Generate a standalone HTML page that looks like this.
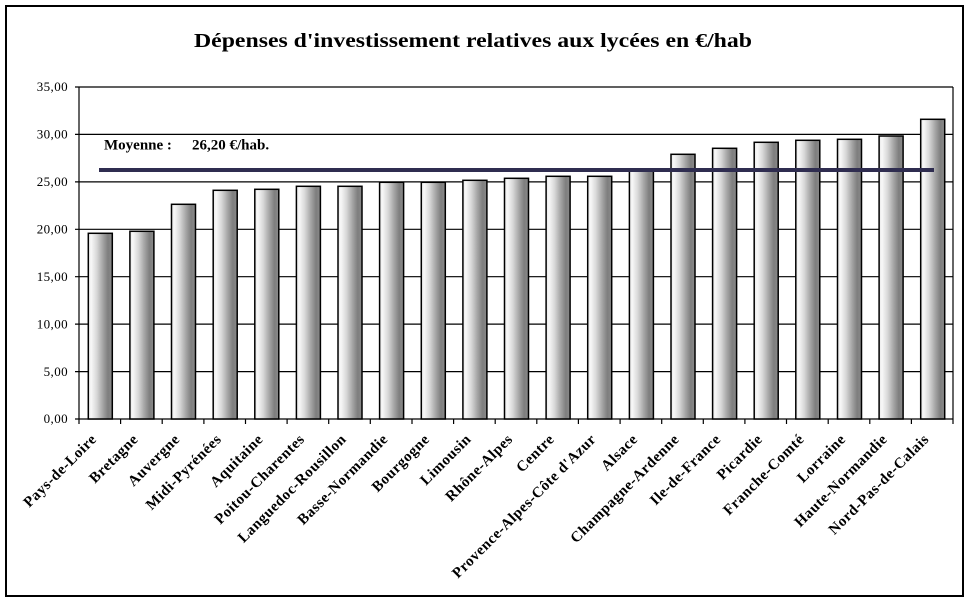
<!DOCTYPE html>
<html>
<head>
<meta charset="utf-8">
<style>
html,body{margin:0;padding:0;background:#fff;}
svg{display:block;}
text{font-family:"Liberation Serif","DejaVu Serif",serif;fill:#000;}
</style>
</head>
<body>
<svg width="970" height="602" viewBox="0 0 970 602" xmlns="http://www.w3.org/2000/svg">
<defs>
<linearGradient id="bg" x1="0" y1="0" x2="1" y2="0">
<stop offset="0" stop-color="#e6e6e6"/>
<stop offset="0.12" stop-color="#f8f8f8"/>
<stop offset="0.35" stop-color="#d8d8d8"/>
<stop offset="0.6" stop-color="#a6a6a6"/>
<stop offset="0.82" stop-color="#7e7e7e"/>
<stop offset="1" stop-color="#8a8a8a"/>
</linearGradient>
</defs>
<rect x="0" y="0" width="970" height="602" fill="#fff"/>
<rect x="6" y="6" width="957" height="590" fill="none" stroke="#000" stroke-width="2"/>

<text x="473" y="47" text-anchor="middle" font-size="20" font-weight="bold" textLength="558" lengthAdjust="spacingAndGlyphs">Dépenses d'investissement relatives aux lycées en €/hab</text>

<!-- gridlines -->
<g stroke="#000" stroke-width="1.2">
<line x1="75" y1="87" x2="953" y2="87"/>
<line x1="75" y1="134.4" x2="953" y2="134.4"/>
<line x1="75" y1="181.9" x2="953" y2="181.9"/>
<line x1="75" y1="229.3" x2="953" y2="229.3"/>
<line x1="75" y1="276.7" x2="953" y2="276.7"/>
<line x1="75" y1="324.1" x2="953" y2="324.1"/>
<line x1="75" y1="371.6" x2="953" y2="371.6"/>
<line x1="75" y1="419" x2="953" y2="419"/>
<line x1="79" y1="87" x2="79" y2="424"/>
<line x1="953" y1="87" x2="953" y2="424"/>
</g>
<g stroke="#000" stroke-width="1.2">
<line x1="120.6" y1="419" x2="120.6" y2="424"/>
<line x1="162.2" y1="419" x2="162.2" y2="424"/>
<line x1="203.9" y1="419" x2="203.9" y2="424"/>
<line x1="245.5" y1="419" x2="245.5" y2="424"/>
<line x1="287.1" y1="419" x2="287.1" y2="424"/>
<line x1="328.7" y1="419" x2="328.7" y2="424"/>
<line x1="370.3" y1="419" x2="370.3" y2="424"/>
<line x1="412" y1="419" x2="412" y2="424"/>
<line x1="453.6" y1="419" x2="453.6" y2="424"/>
<line x1="495.2" y1="419" x2="495.2" y2="424"/>
<line x1="536.8" y1="419" x2="536.8" y2="424"/>
<line x1="578.4" y1="419" x2="578.4" y2="424"/>
<line x1="620.1" y1="419" x2="620.1" y2="424"/>
<line x1="661.7" y1="419" x2="661.7" y2="424"/>
<line x1="703.3" y1="419" x2="703.3" y2="424"/>
<line x1="744.9" y1="419" x2="744.9" y2="424"/>
<line x1="786.5" y1="419" x2="786.5" y2="424"/>
<line x1="828.2" y1="419" x2="828.2" y2="424"/>
<line x1="869.8" y1="419" x2="869.8" y2="424"/>
<line x1="911.4" y1="419" x2="911.4" y2="424"/>
</g>

<!-- y labels -->
<g font-size="13" text-anchor="end" letter-spacing="0.4">
<text x="68" y="91">35,00</text>
<text x="68" y="138.5">30,00</text>
<text x="68" y="186">25,00</text>
<text x="68" y="233.5">20,00</text>
<text x="68" y="281">15,00</text>
<text x="68" y="328.5">10,00</text>
<text x="68" y="376">5,00</text>
<text x="68" y="423">0,00</text>
</g>

<!-- bars -->
<g fill="url(#bg)" stroke="#000" stroke-width="1.5">
<rect x="88.3" y="233.3" width="24" height="185.7"/>
<rect x="129.9" y="231.3" width="24" height="187.7"/>
<rect x="171.5" y="204.3" width="24" height="214.7"/>
<rect x="213.2" y="190.3" width="24" height="228.7"/>
<rect x="254.8" y="189.3" width="24" height="229.7"/>
<rect x="296.4" y="186.3" width="24" height="232.7"/>
<rect x="338" y="186.3" width="24" height="232.7"/>
<rect x="379.6" y="182.3" width="24" height="236.7"/>
<rect x="421.3" y="182.3" width="24" height="236.7"/>
<rect x="462.9" y="180.3" width="24" height="238.7"/>
<rect x="504.5" y="178.3" width="24" height="240.7"/>
<rect x="546.1" y="176.3" width="24" height="242.7"/>
<rect x="587.7" y="176.3" width="24" height="242.7"/>
<rect x="629.4" y="169.5" width="24" height="249.5"/>
<rect x="671" y="154.3" width="24" height="264.7"/>
<rect x="712.6" y="148.3" width="24" height="270.7"/>
<rect x="754.2" y="142.3" width="24" height="276.7"/>
<rect x="795.8" y="140.3" width="24" height="278.7"/>
<rect x="837.5" y="139.3" width="24" height="279.7"/>
<rect x="879.1" y="136" width="24" height="283"/>
<rect x="920.7" y="119.3" width="24" height="299.7"/>
</g>

<!-- average line -->
<rect x="99" y="168" width="835" height="4" fill="#2f2d50"/>
<text x="104" y="149.5" font-size="15" font-weight="bold">Moyenne :</text>
<text x="192" y="149.5" font-size="15" font-weight="bold">26,20 €/hab.</text>

<!-- x labels -->
<g font-size="15" font-weight="bold" text-anchor="end" letter-spacing="0.5">
<text transform="translate(97.3,440) rotate(-45)">Pays-de-Loire</text>
<text transform="translate(138.9,440) rotate(-45)">Bretagne</text>
<text transform="translate(180.6,440) rotate(-45)">Auvergne</text>
<text transform="translate(222.2,440) rotate(-45)">Midi-Pyrénées</text>
<text transform="translate(263.8,440) rotate(-45)">Aquitaine</text>
<text transform="translate(305.4,440) rotate(-45)">Poitou-Charentes</text>
<text transform="translate(347,440) rotate(-45)">Languedoc-Rousillon</text>
<text transform="translate(388.7,440) rotate(-45)">Basse-Normandie</text>
<text transform="translate(430.3,440) rotate(-45)">Bourgogne</text>
<text transform="translate(471.9,440) rotate(-45)">Limousin</text>
<text transform="translate(513.5,440) rotate(-45)">Rhône-Alpes</text>
<text transform="translate(555.1,440) rotate(-45)">Centre</text>
<text transform="translate(596.8,440) rotate(-45)">Provence-Alpes-Côte d'Azur</text>
<text transform="translate(638.4,440) rotate(-45)">Alsace</text>
<text transform="translate(680,440) rotate(-45)">Champagne-Ardenne</text>
<text transform="translate(721.6,440) rotate(-45)">Ile-de-France</text>
<text transform="translate(763.2,440) rotate(-45)">Picardie</text>
<text transform="translate(804.9,440) rotate(-45)">Franche-Comté</text>
<text transform="translate(846.5,440) rotate(-45)">Lorraine</text>
<text transform="translate(888.1,440) rotate(-45)">Haute-Normandie</text>
<text transform="translate(929.7,440) rotate(-45)">Nord-Pas-de-Calais</text>
</g>
</svg>
</body>
</html>
